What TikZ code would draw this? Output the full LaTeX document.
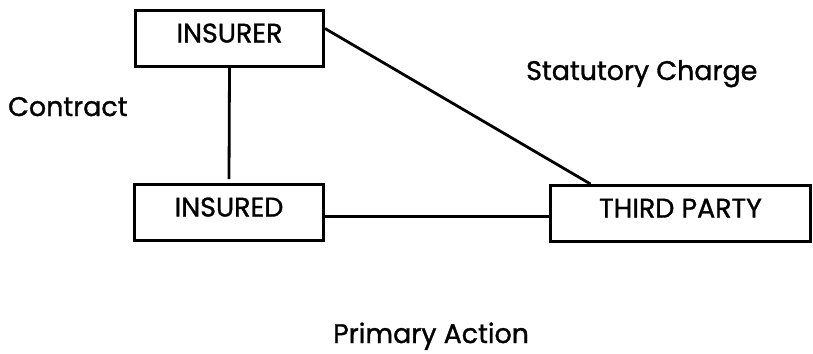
\documentclass[tikz,border=0pt]{standalone}
\usepackage{fontspec}
\setmainfont{Poppins}[FakeBold = 1.2, AutoFakeBold = 1.2]
\begin{document}
\begin{tikzpicture}
          [x = 1bp, y = -1bp, line join = miter,
           party/.style = {draw, line width = 3bp, inner sep = 0pt,
             minimum height = 56bp, text height = 20bp, text depth = 12bp,
             font = \fontsize{27}{30}\selectfont\bfseries},
           tag/.style = {anchor = base west, inner sep = 0pt,
             font = \fontsize{27}{30}\selectfont\bfseries},
           link/.style = {draw, line width = 2.8bp}]
          \useasboundingbox (0,0) rectangle (813,353);
          \node[party, minimum width = 188bp] (insurer) at (229.5,38.5) {INSURER};
          \node[party, minimum width = 189bp] (insured) at (229,212.5) {INSURED};
          \node[party, minimum width = 260bp] (third) at (680.5,213.5) {THIRD PARTY};
          \path[link] (insurer.south) -- ([yshift = 4bp]insured.north);
          \path[link] ([yshift = 10bp]insurer.east) -- ([xshift = -90bp]third.north);
          \path[link] ([yshift = -4bp]insured.east) -- ([yshift = -4bp]insured.east -| third.west);
          \node[tag] (contract) at (8,116) {Contract};
          \node[tag] (statutory) at (526,80) {Statutory Charge};
          \node[tag] (primary) at (333,343) {Primary Action};
        \end{tikzpicture}
\end{document}
